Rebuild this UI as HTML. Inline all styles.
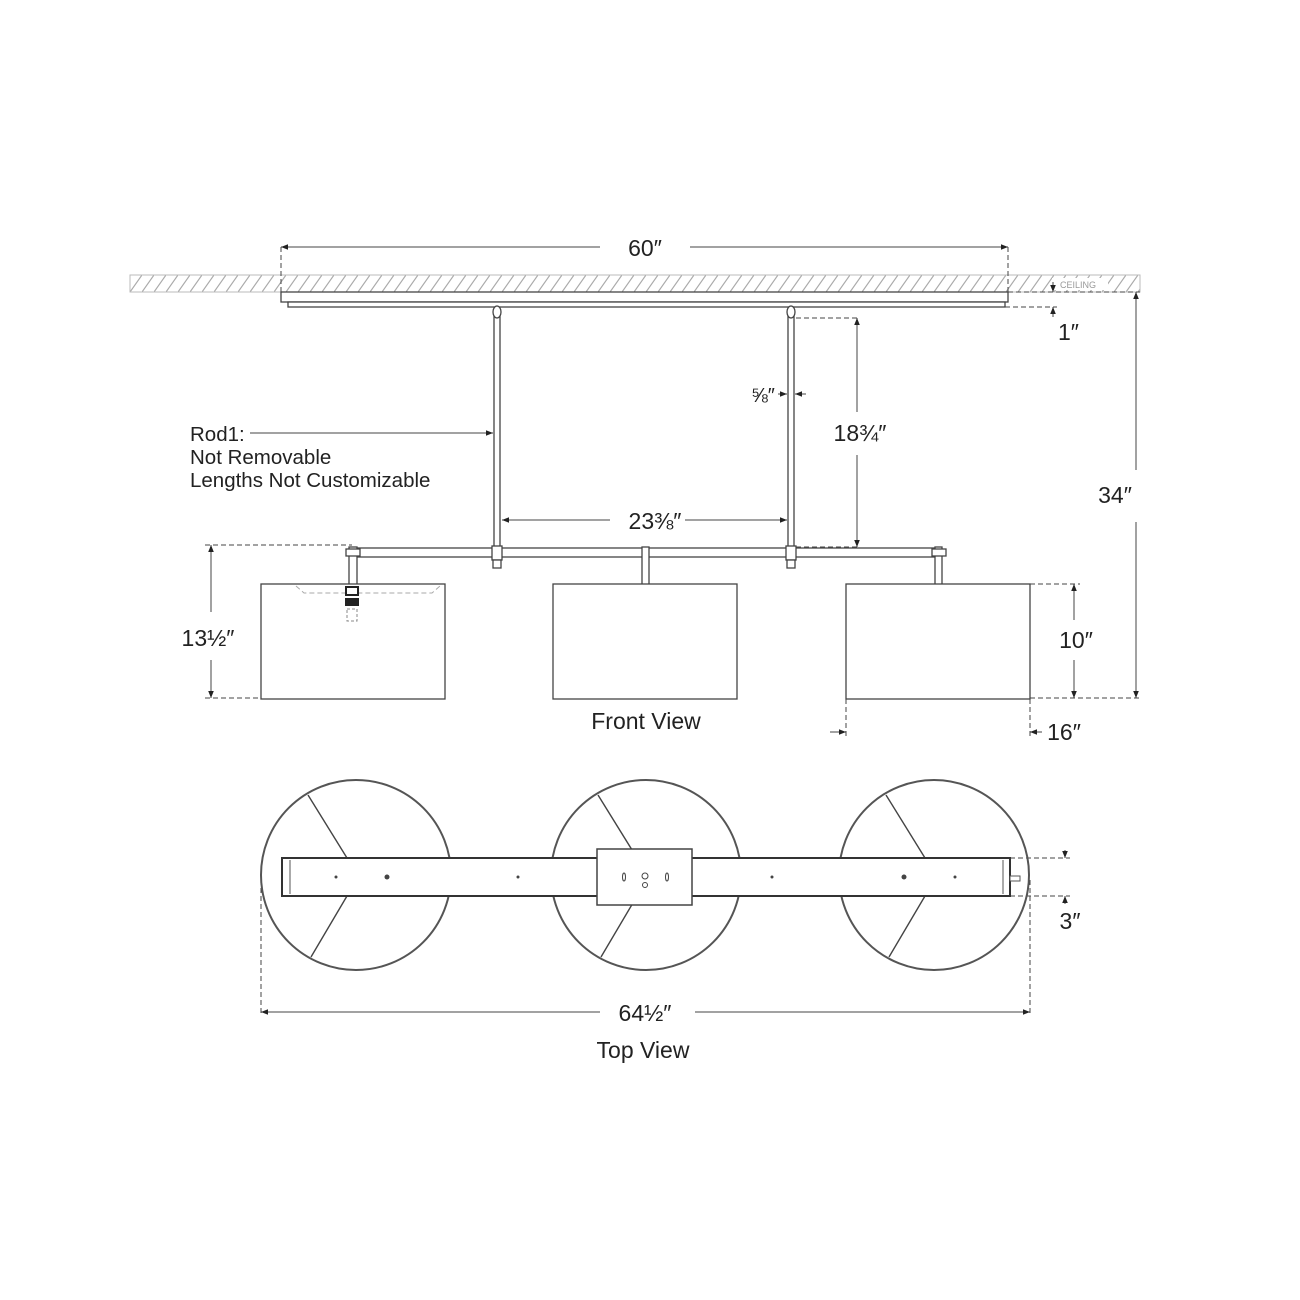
<!DOCTYPE html>
<html><head><meta charset="utf-8"><style>
html,body{margin:0;padding:0;background:#fff}
svg{display:block}
text{font-family:"Liberation Sans Narrow","Liberation Sans",sans-serif;fill:#222}
</style></head><body>
<svg width="1300" height="1300" viewBox="0 0 1300 1300" xmlns="http://www.w3.org/2000/svg">
<defs>
<pattern id="h" width="12" height="17" patternUnits="userSpaceOnUse" x="130" y="275">
<line x1="0" y1="17" x2="12" y2="0" stroke="#aaa" stroke-width="1.2"/>
</pattern>
<marker id="a" viewBox="0 0 10 10" refX="10" refY="5" markerWidth="7" markerHeight="7" orient="auto-start-reverse"><path d="M0,1 L10,5 L0,9z" fill="#222"/></marker>
</defs>
<rect x="130" y="275" width="1010" height="17" fill="url(#h)" stroke="#bbb" stroke-width="1"/>
<rect x="1052" y="278" width="56" height="12" fill="#fff"/>
<text x="1060" y="288" font-size="9" style="fill:#999">CEILING</text>
<rect x="281" y="292" width="727" height="10" fill="#fff" stroke="#444" stroke-width="1.3"/>
<rect x="288" y="302" width="717" height="5" fill="#fff" stroke="#444" stroke-width="1.3"/>
<g stroke="#444" stroke-width="1.3" fill="#fff">
<rect x="494" y="316" width="6" height="232"/>
<rect x="788" y="316" width="6" height="232"/>
<ellipse cx="497" cy="312" rx="4" ry="6"/>
<ellipse cx="791" cy="312" rx="4" ry="6"/>
<rect x="351" y="548" width="589" height="9"/>
<rect x="349" y="547" width="8" height="40"/>
<rect x="642" y="547" width="7" height="38"/>
<rect x="935" y="547" width="7" height="38"/>
<rect x="492" y="546" width="10" height="14"/><rect x="493" y="560" width="8" height="8"/>
<rect x="786" y="546" width="10" height="14"/><rect x="787" y="560" width="8" height="8"/>
<rect x="346" y="549" width="14" height="7"/>
<rect x="932" y="549" width="14" height="7"/>
<rect x="261" y="584" width="184" height="115"/>
<rect x="553" y="584" width="184" height="115"/>
<rect x="846" y="584" width="184" height="115"/>
</g>
<path d="M296,586 l8,7 H432 l8,-7" fill="none" stroke="#aaa" stroke-dasharray="5,3"/>
<rect x="346" y="587" width="12" height="8" fill="#fff" stroke="#222" stroke-width="2"/>
<rect x="345" y="598" width="14" height="8" fill="#222"/>
<rect x="347" y="609" width="10" height="12" fill="#fff" stroke="#888" stroke-dasharray="3,2"/>
<g stroke="#444" stroke-width="1" fill="none">
<line x1="281" y1="247" x2="600" y2="247" marker-start="url(#a)"/>
<line x1="690" y1="247" x2="1008" y2="247" marker-end="url(#a)"/>
<g stroke-dasharray="5,3"><line x1="281" y1="247" x2="281" y2="292"/><line x1="1008" y1="247" x2="1008" y2="292"/>
<line x1="1008" y1="292" x2="1140" y2="292"/><line x1="1005" y1="307" x2="1057" y2="307"/>
<line x1="796" y1="318" x2="860" y2="318"/><line x1="796" y1="547" x2="860" y2="547"/>
<line x1="205" y1="545" x2="352" y2="545"/><line x1="205" y1="698" x2="261" y2="698"/>
<line x1="1030" y1="584" x2="1080" y2="584"/><line x1="1030" y1="698" x2="1140" y2="698"/>
<line x1="846" y1="699" x2="846" y2="737"/><line x1="1030" y1="699" x2="1030" y2="737"/>
<line x1="1010" y1="858" x2="1070" y2="858"/><line x1="1010" y1="896" x2="1070" y2="896"/>
<line x1="261" y1="880" x2="261" y2="1015"/><line x1="1030" y1="880" x2="1030" y2="1015"/></g>
<line x1="1053" y1="282" x2="1053" y2="292" marker-end="url(#a)"/>
<line x1="1053" y1="317" x2="1053" y2="307" marker-end="url(#a)"/>
<line x1="1136" y1="292" x2="1136" y2="470" marker-start="url(#a)"/>
<line x1="1136" y1="522" x2="1136" y2="698" marker-end="url(#a)"/>
<line x1="857" y1="318" x2="857" y2="412" marker-start="url(#a)"/>
<line x1="857" y1="455" x2="857" y2="547" marker-end="url(#a)"/>
<line x1="778" y1="394" x2="787" y2="394" marker-end="url(#a)"/>
<line x1="806" y1="394" x2="795" y2="394" marker-end="url(#a)"/>
<line x1="502" y1="520" x2="610" y2="520" marker-start="url(#a)"/>
<line x1="685" y1="520" x2="787" y2="520" marker-end="url(#a)"/>
<line x1="250" y1="433" x2="493" y2="433" marker-end="url(#a)"/>
<line x1="211" y1="545" x2="211" y2="612" marker-start="url(#a)"/>
<line x1="211" y1="660" x2="211" y2="698" marker-end="url(#a)"/>
<line x1="1074" y1="584" x2="1074" y2="620" marker-start="url(#a)"/>
<line x1="1074" y1="660" x2="1074" y2="698" marker-end="url(#a)"/>
<line x1="830" y1="732" x2="846" y2="732" marker-end="url(#a)"/>
<line x1="1042" y1="732" x2="1030" y2="732" marker-end="url(#a)"/>
<line x1="1065" y1="850" x2="1065" y2="858" marker-end="url(#a)"/>
<line x1="1065" y1="904" x2="1065" y2="896" marker-end="url(#a)"/>
<line x1="261" y1="1012" x2="600" y2="1012" marker-start="url(#a)"/>
<line x1="695" y1="1012" x2="1030" y2="1012" marker-end="url(#a)"/>
</g>
<g stroke="#555" stroke-width="2" fill="none">
<circle cx="356" cy="875" r="95"/><circle cx="646" cy="875" r="95"/><circle cx="934" cy="875" r="95"/>
</g>
<g stroke="#444" stroke-width="1.4">
<line x1="308" y1="795" x2="347" y2="858"/><line x1="347" y1="896" x2="311" y2="957"/>
<line x1="598" y1="795" x2="637" y2="858"/><line x1="637" y1="896" x2="601" y2="957"/>
<line x1="886" y1="795" x2="925" y2="858"/><line x1="925" y1="896" x2="889" y2="957"/>
</g>
<rect x="282" y="858" width="728" height="38" fill="#fff" stroke="#333" stroke-width="2"/>
<line x1="290" y1="860" x2="290" y2="894" stroke="#555"/>
<line x1="1003" y1="860" x2="1003" y2="894" stroke="#555"/>
<rect x="1010" y="876" width="10" height="5" fill="#fff" stroke="#555"/>
<rect x="597" y="849" width="95" height="56" fill="#fff" stroke="#444" stroke-width="1.5"/>
<g fill="#444"><circle cx="336" cy="877" r="1.5"/><circle cx="387" cy="877" r="2.5"/><circle cx="518" cy="877" r="1.5"/><circle cx="772" cy="877" r="1.5"/><circle cx="904" cy="877" r="2.5"/><circle cx="955" cy="877" r="1.5"/></g>
<g fill="none" stroke="#444"><ellipse cx="624" cy="877" rx="1.5" ry="4"/><ellipse cx="667" cy="877" rx="1.5" ry="4"/><circle cx="645" cy="876" r="3"/><circle cx="645" cy="885" r="2.5"/></g>
<g font-size="23" text-anchor="middle">
<text x="645" y="256">60″</text>
<text x="1058" y="340" text-anchor="start">1″</text>
<text x="1115" y="503">34″</text>
<text x="860" y="441">18¾″</text>
<text x="655" y="529">23⅜″</text>
<text x="208" y="646">13½″</text>
<text x="1076" y="648">10″</text>
<text x="1064" y="740">16″</text>
<text x="1070" y="929">3″</text>
<text x="645" y="1021">64½″</text>
<text x="646" y="729" font-size="23">Front View</text>
<text x="643" y="1058" font-size="23">Top View</text>
<text x="763" y="402" font-size="20">⅝″</text>
</g>
<g font-size="20.5">
<text x="190" y="441">Rod1:</text>
<text x="190" y="464">Not Removable</text>
<text x="190" y="487">Lengths Not Customizable</text>
</g>
</svg>
</body></html>
